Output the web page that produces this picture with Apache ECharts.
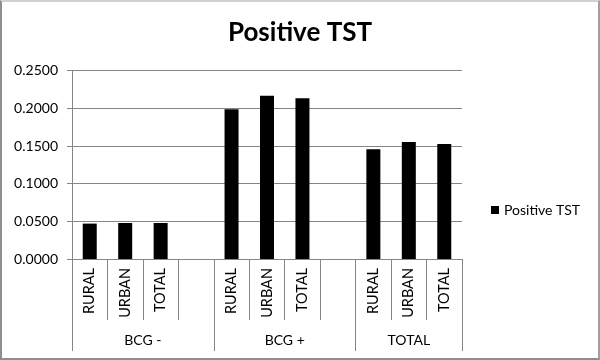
<!DOCTYPE html>
<html>
<head>
<meta charset="utf-8">
<script src="https://cdn.jsdelivr.net/npm/echarts@6/dist/echarts.min.js"></script>
<style>
html,body{margin:0;padding:0;background:#fff;}
#frame{position:absolute;left:0;top:0;width:600px;height:360px;box-sizing:border-box;border:2px solid #8e8e8e;border-top-color:#d0d0d0;border-right-color:#a0a0a0;}
#chart{position:absolute;left:0;top:0;width:600px;height:360px;}
</style>
</head>
<body>
<div id="frame"></div>
<div id="chart"></div>
<script>
var subCategories = ['RURAL', 'URBAN', 'TOTAL', '', 'RURAL', 'URBAN', 'TOTAL', '', 'RURAL', 'URBAN', 'TOTAL'];
var groupNames = ['BCG -', 'BCG +', 'TOTAL'];
var groupBounds = [0, 4, 8, 11];
var groupCenters = [2, 6, 9.5];
var positiveTST = [0.0470, 0.0478, 0.0478, null, 0.1987, 0.2167, 0.2133, null, 0.1456, 0.1553, 0.1526];
var yTicks = [0, 0.05, 0.10, 0.15, 0.20, 0.25];

var chart = echarts.init(document.getElementById('chart'), null, {renderer: 'canvas'});
var font = 'Lato';
chart.setOption({
  animation: false,
  backgroundColor: 'transparent',
  title: {
    text: 'Positive TST',
    left: 'center',
    top: 15,
    textStyle: {fontFamily: font, fontWeight: 'bold', fontSize: 26, color: '#000'}
  },
  legend: {
    data: ['Positive TST'],
    left: 486,
    top: 198,
    icon: 'rect',
    itemWidth: 8,
    itemHeight: 8,
    textStyle: {fontFamily: font, fontSize: 14, color: '#000'}
  },
  grid: {left: 72, right: 138, top: 70.7, bottom: 101, containLabel: false},
  xAxis: [
    {
      type: 'category',
      data: subCategories,
      boundaryGap: true,
      axisLine: {lineStyle: {color: '#868686', width: 1}},
      axisTick: {show: true, interval: 0, length: 61, lineStyle: {color: '#868686'}},
      axisLabel: {interval: 0, rotate: 90, margin: 9, fontFamily: font, fontSize: 14.5, color: '#000'},
      splitLine: {show: false}
    },
    {
      type: 'value',
      position: 'bottom',
      min: 0,
      max: 11,
      axisLine: {show: false},
      splitLine: {show: false},
      axisTick: {show: true, customValues: groupBounds, length: 92, lineStyle: {color: '#868686'}},
      axisLabel: {
        customValues: groupCenters,
        margin: 74,
        fontFamily: font, fontSize: 14, color: '#000',
        formatter: function (v) {
          var i = groupCenters.indexOf(v);
          return i >= 0 ? groupNames[i] : '';
        }
      }
    }
  ],
  yAxis: {
    type: 'value',
    min: yTicks[0],
    max: yTicks[yTicks.length - 1],
    interval: 0.05,
    axisLine: {show: true, lineStyle: {color: '#868686'}},
    axisTick: {show: true, length: 5, lineStyle: {color: '#868686'}},
    axisLabel: {margin: 14, fontFamily: font, fontSize: 14, color: '#000',
      formatter: function (v) { return v.toFixed(4); }},
    splitLine: {show: true, lineStyle: {color: '#868686', width: 1}}
  },
  series: [{
    name: 'Positive TST',
    type: 'bar',
    xAxisIndex: 0,
    data: positiveTST,
    barWidth: 14,
    itemStyle: {color: '#000'}
  }]
});
</script>
</body>
</html>
